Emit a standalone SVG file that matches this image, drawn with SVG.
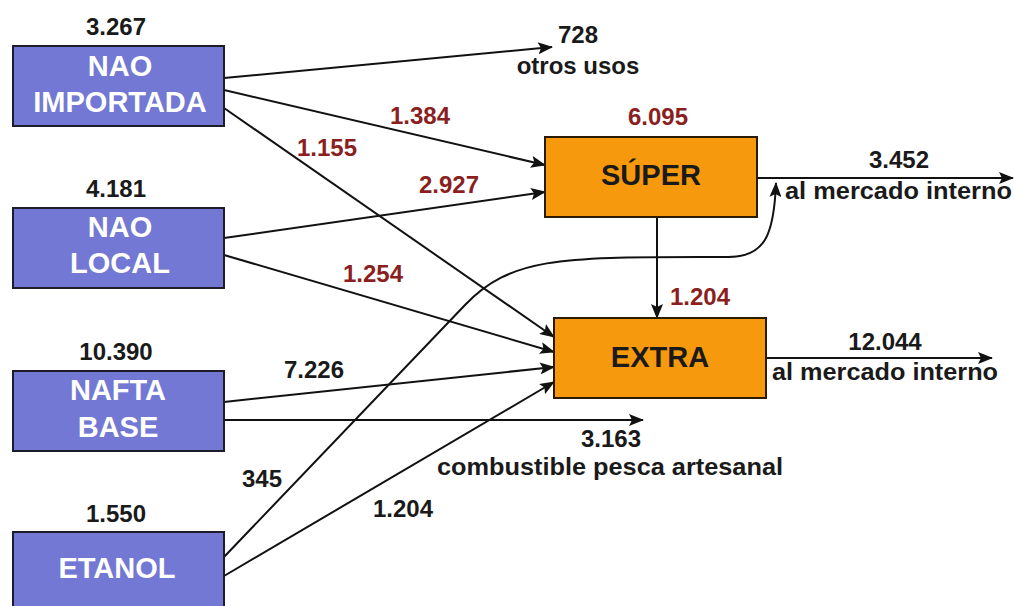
<svg xmlns="http://www.w3.org/2000/svg" width="1014" height="606" viewBox="0 0 1014 606">
  <style>
    .src { fill: #7378D4; stroke: #1c1c2a; stroke-width: 2; }
    .prod { fill: #F7990C; stroke: #2a1a00; stroke-width: 2; }
    .box-w { font-family: "Liberation Sans", Arial, sans-serif; font-weight: bold; font-size: 29px; fill: #ffffff; text-anchor: middle; }
    .box-k { font-family: "Liberation Sans", Arial, sans-serif; font-weight: bold; font-size: 29px; fill: #1a1a1a; text-anchor: middle; }
    .num { font-family: "Liberation Sans", Arial, sans-serif; font-weight: bold; font-size: 24px; fill: #1a1a1a; }
    .red { font-family: "Liberation Sans", Arial, sans-serif; font-weight: bold; font-size: 24px; fill: #8B1F1F; }
    .lbl { font-family: "Liberation Sans", Arial, sans-serif; font-weight: bold; font-size: 24px; fill: #1a1a1a; }
    .flow { fill: none; stroke: #111111; stroke-width: 2; marker-end: url(#arrow); }
  </style>
  <defs>
    <marker id="arrow" markerUnits="userSpaceOnUse" markerWidth="16" markerHeight="12" refX="14" refY="6" orient="auto">
      <path d="M0,0 L15,6 L0,12 L3,6 Z" fill="#111111"/>
    </marker>
  </defs>

  <rect width="1014" height="606" fill="#ffffff"/>

  <!-- connectors -->
  <g id="connectors">
    <line class="flow" x1="224" y1="78" x2="552" y2="47"/>
    <line class="flow" x1="224" y1="90" x2="545" y2="165"/>
    <line class="flow" x1="224" y1="108" x2="554" y2="337"/>
    <line class="flow" x1="224" y1="238" x2="545" y2="192"/>
    <line class="flow" x1="224" y1="255" x2="554" y2="352"/>
    <line class="flow" x1="224" y1="402" x2="554" y2="367"/>
    <line class="flow" x1="224" y1="420" x2="643" y2="420"/>
    <line class="flow" x1="224" y1="576" x2="554" y2="382"/>
    <path class="flow" d="M224,557 L465,305 C510,258 560,257 700,257 L728,257 C765,257 774,235 776,183"/>
    <line class="flow" x1="657" y1="217" x2="657" y2="318"/>
    <line class="flow" x1="757" y1="178" x2="1013" y2="178"/>
    <line class="flow" x1="766" y1="358" x2="992" y2="358"/>
  </g>

  <!-- source nodes -->
  <g id="nao-importada">
    <rect class="src" x="13" y="46" width="211" height="80"/>
    <text class="box-w" x="120" y="76">NAO</text>
    <text class="box-w" x="120" y="112">IMPORTADA</text>
    <text class="num" x="116" y="35" text-anchor="middle">3.267</text>
  </g>
  <g id="nao-local">
    <rect class="src" x="13" y="208" width="211" height="80"/>
    <text class="box-w" x="120" y="237">NAO</text>
    <text class="box-w" x="120" y="273">LOCAL</text>
    <text class="num" x="116" y="197" text-anchor="middle">4.181</text>
  </g>
  <g id="nafta-base">
    <rect class="src" x="13" y="371" width="211" height="80"/>
    <text class="box-w" x="118" y="400">NAFTA</text>
    <text class="box-w" x="118" y="437">BASE</text>
    <text class="num" x="116" y="360" text-anchor="middle">10.390</text>
  </g>
  <g id="etanol">
    <rect class="src" x="13" y="532" width="211" height="80"/>
    <text class="box-w" x="117" y="578">ETANOL</text>
    <text class="num" x="116" y="522" text-anchor="middle">1.550</text>
  </g>

  <!-- product nodes -->
  <g id="super">
    <rect class="prod" x="545" y="137" width="212" height="80"/>
    <text class="box-k" x="651" y="185">SÚPER</text>
    <text class="red" x="658" y="125" text-anchor="middle">6.095</text>
  </g>
  <g id="extra">
    <rect class="prod" x="554" y="318" width="212" height="80"/>
    <text class="box-k" x="660" y="367">EXTRA</text>
  </g>

  <!-- flow labels -->
  <g id="flow-labels">
    <text class="num" x="578" y="43" text-anchor="middle">728</text>
    <text class="lbl" x="578" y="74" text-anchor="middle">otros usos</text>
    <text class="red" x="420" y="124" text-anchor="middle">1.384</text>
    <text class="red" x="327" y="156" text-anchor="middle">1.155</text>
    <text class="red" x="449" y="193" text-anchor="middle">2.927</text>
    <text class="red" x="373" y="282" text-anchor="middle">1.254</text>
    <text class="red" x="700" y="305" text-anchor="middle">1.204</text>
    <text class="num" x="314" y="378" text-anchor="middle">7.226</text>
    <text class="num" x="611" y="447" text-anchor="middle">3.163</text>
    <text class="lbl" x="610" y="475" text-anchor="middle" textLength="346" lengthAdjust="spacingAndGlyphs">combustible pesca artesanal</text>
    <text class="num" x="262" y="487" text-anchor="middle">345</text>
    <text class="num" x="403" y="517" text-anchor="middle">1.204</text>
    <text class="num" x="899" y="168" text-anchor="middle">3.452</text>
    <text class="lbl" x="785" y="199" textLength="227" lengthAdjust="spacingAndGlyphs">al mercado interno</text>
    <text class="num" x="885" y="350" text-anchor="middle">12.044</text>
    <text class="lbl" x="772" y="380" textLength="226" lengthAdjust="spacingAndGlyphs">al mercado interno</text>
  </g>
</svg>
